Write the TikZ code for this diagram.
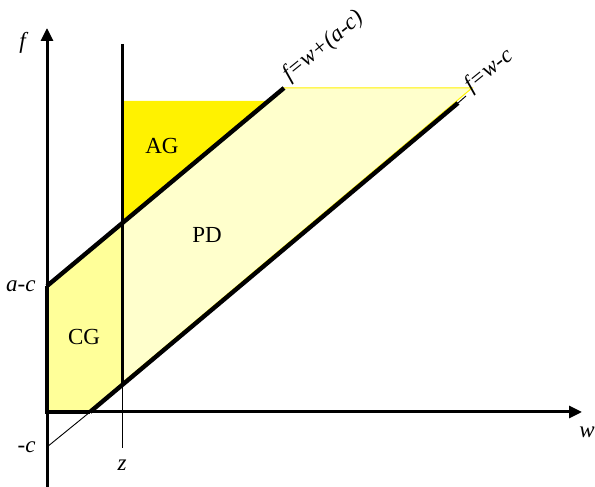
\documentclass[tikz,border=0pt]{standalone}
\usepackage{fontspec}
\setmainfont{Liberation Serif}
\definecolor{PaleYellow}{RGB}{255,255,204}
\definecolor{MidYellow}{RGB}{255,255,153}
\usetikzlibrary{arrows.meta, calc}

\begin{document}
\begin{tikzpicture}[x=1pt, y=1pt,
    every node/.style={font=\fontsize{23}{27}\selectfont},
    axis/.style={line width=3pt, -{Triangle[length=13pt, width=12pt]}},
    border/.style={line width=4.4pt},
    guide/.style={line width=0.9pt}
]
\useasboundingbox (0,0) rectangle (595,487);
% Key points
\coordinate (O) at (47,75);
\coordinate (ftip) at (47,459);
\coordinate (fbot) at (47,0);
\coordinate (wtip) at (582,75);
\coordinate (ac) at (47,201);
\coordinate (mc) at (47,40);
\coordinate (upEnd) at (284,399);
\coordinate (zUp) at (122,264);
\coordinate (zLow) at (122,104);
\coordinate (zTop) at (122,443);
\coordinate (zBot) at (122,39);
\coordinate (lowO) at (90,75);
\coordinate (lowEnd) at (458,384);
\coordinate (lowTip) at (466,391);
\coordinate (pdTop) at (472,399);
\coordinate (agL) at (122,386);
\coordinate (agR) at (268.5,386);
% Regions
\fill[yellow] (zUp) -- (agR) -- (agL) -- cycle;
\filldraw[fill=PaleYellow, draw=yellow, line width=1pt] (zUp) -- (upEnd) -- (pdTop) -- (zLow) -- cycle;
\fill[MidYellow] (ac) -- (zUp) -- (zLow) -- (lowO) -- (O) -- cycle;
% Thin guides
\draw[guide] (mc) -- (lowO);
\draw[guide] (lowEnd) -- (lowTip);
\draw[guide] (zLow) -- (zBot);
% Axes
\draw[axis] (fbot) -- (ftip);
\draw[axis] (O) -- (wtip);
% Boundaries
\draw[border] (ac) -- (upEnd);
\draw[border] (lowO) -- (lowEnd);
\draw[border] (ac) -- (O) -- (lowO);
\draw[line width=3pt] (zTop) -- (zLow);
% Labels
\node[anchor=east] (lf) at (32,444) {\textit{f}};
\node[anchor=east] (lac) at ($(ac)+(-8,0)$) {\textit{a-c}};
\node[anchor=east] (lmc) at ($(mc)+(-8,0)$) {\textit{-c}};
\node (lz) at (122,22) {\textit{z}};
\node (lw) at (587,55) {\textit{w}};
\foreach \x/\y/\name in {162/341/AG, 207/252/PD, 84/150/CG}
    \node at (\x,\y) {\name};
\node[anchor=south west, rotate=39, inner sep=1pt] (lup) at ($(upEnd)+(8,1)$) {\textit{f=w+(a-c)}};
\node[anchor=south west, rotate=39, inner sep=1pt] (llow) at ($(pdTop)+(2,-10)$) {\textit{f=w-c}};
\end{tikzpicture}
\end{document}
